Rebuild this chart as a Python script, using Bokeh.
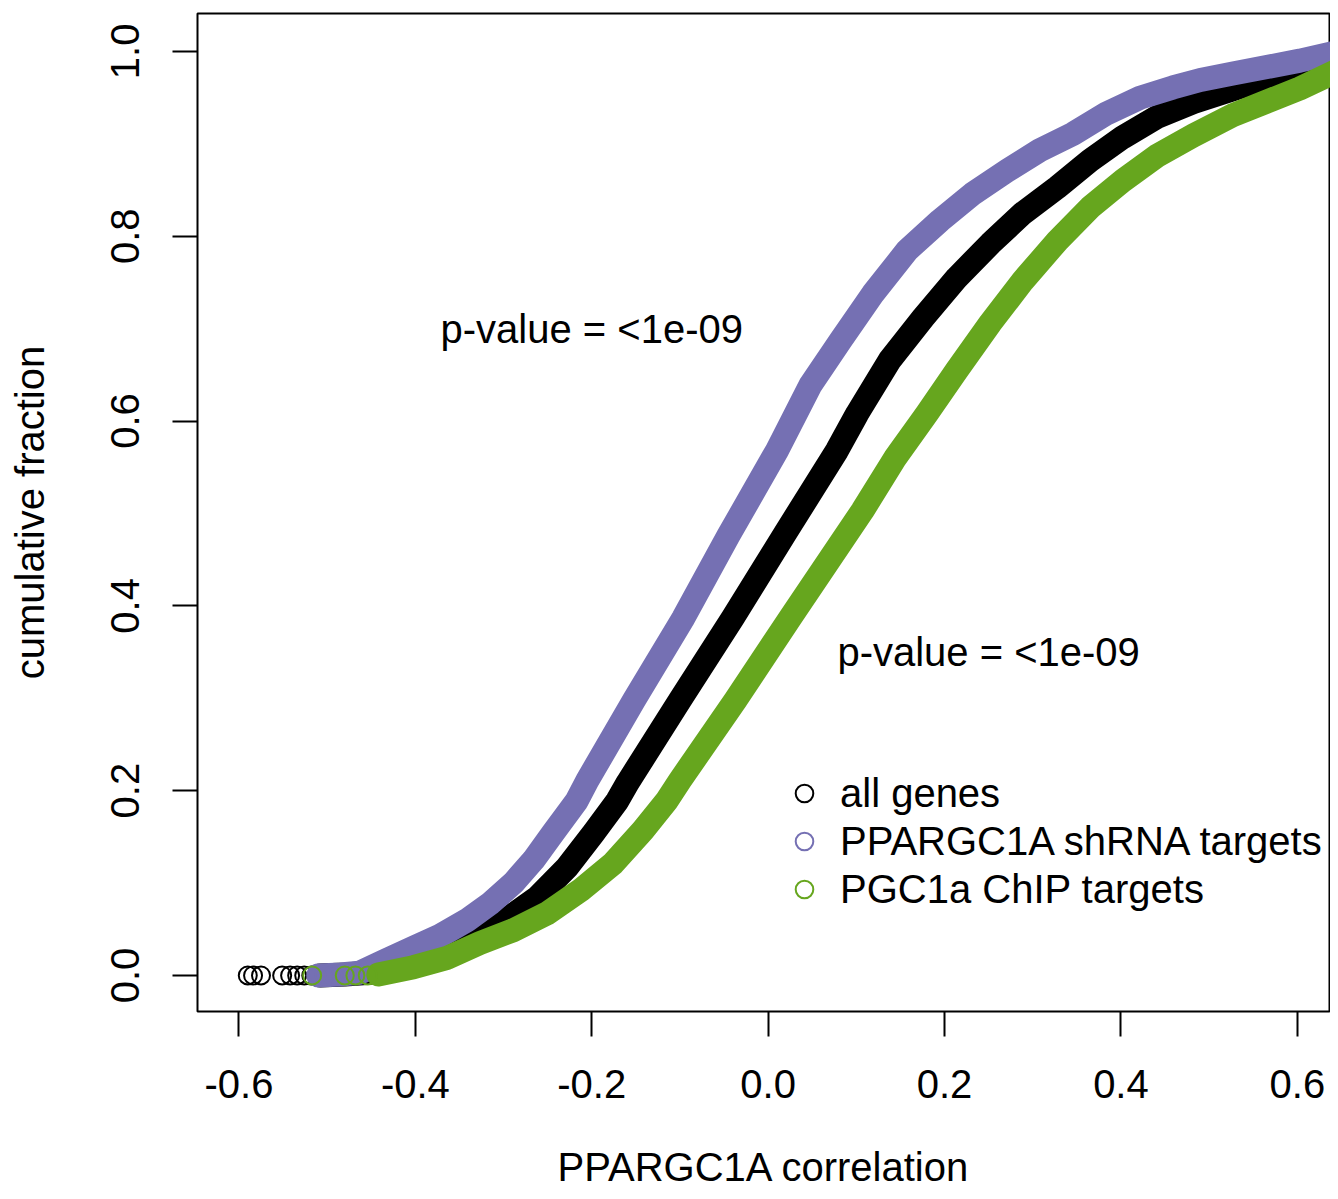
from bokeh.plotting import figure
from bokeh.models import Range1d, FixedTicker, Legend, LegendItem
from bokeh.core.properties import value
from bokeh.embed import file_html
from bokeh.resources import INLINE

FONT = "Liberation Sans"

# ---- data (ECDF of correlation values) ----
all_tail_x = [-0.590, -0.584, -0.575, -0.551, -0.542, -0.534, -0.526, -0.518]
all_tail_y = [0.0, 0.0, 0.0, 0.0, 0.0, 0.0, 0.0, 0.0]
all_x = [-0.508, -0.480, -0.451, -0.417, -0.389, -0.372, -0.357, -0.330, -0.296,
         -0.262, -0.228, -0.198, -0.171, -0.159, -0.100, -0.040, 0.019, 0.078,
         0.101, 0.138, 0.176, 0.214, 0.252, 0.289, 0.328, 0.365, 0.402, 0.441,
         0.482, 0.546, 0.603, 0.641]
all_y = [0.000, 0.001, 0.003, 0.009, 0.017, 0.024, 0.030, 0.043, 0.061,
         0.084, 0.117, 0.154, 0.189, 0.209, 0.298, 0.387, 0.478, 0.568,
         0.608, 0.666, 0.712, 0.755, 0.792, 0.825, 0.853, 0.882, 0.907, 0.929,
         0.945, 0.965, 0.983, 0.996]

sh_tail_x = [-0.512, -0.503, -0.494]
sh_tail_y = [0.0, 0.0, 0.0]
sh_x = [-0.510, -0.485, -0.463, -0.434, -0.402, -0.372, -0.341, -0.315, -0.289,
        -0.266, -0.244, -0.217, -0.205, -0.152, -0.096, -0.045, 0.010, 0.048,
        0.082, 0.119, 0.158, 0.195, 0.232, 0.271, 0.308, 0.346, 0.384, 0.422,
        0.459, 0.490, 0.527, 0.603, 0.645]
sh_y = [0.000, 0.001, 0.003, 0.016, 0.030, 0.043, 0.060, 0.078, 0.100,
        0.125, 0.154, 0.189, 0.211, 0.298, 0.387, 0.476, 0.568, 0.639,
        0.687, 0.738, 0.785, 0.817, 0.846, 0.871, 0.893, 0.911, 0.933, 0.950,
        0.961, 0.969, 0.976, 0.990, 0.999]

chip_tail_x = [-0.517, -0.480, -0.468, -0.454]
chip_tail_y = [0.0, 0.0, 0.0, 0.0]
chip_x = [-0.442, -0.402, -0.364, -0.327, -0.289, -0.251, -0.213, -0.176, -0.142,
          -0.115, -0.100, -0.037, 0.025, 0.107, 0.144, 0.180, 0.214, 0.252,
          0.289, 0.328, 0.365, 0.402, 0.441, 0.482, 0.527, 0.603, 0.645]
chip_y = [0.001, 0.009, 0.019, 0.035, 0.049, 0.067, 0.092, 0.121, 0.157,
          0.189, 0.211, 0.298, 0.387, 0.503, 0.560, 0.608, 0.655, 0.706,
          0.752, 0.795, 0.831, 0.860, 0.887, 0.909, 0.931, 0.960, 0.979]

series_names = ["all genes", "PPARGC1A shRNA targets", "PGC1a ChIP targets"]
series_colors = ["#000000", "#7570B3", "#66A61E"]

annot_x = [-0.2, 0.25]
annot_y = [0.7, 0.35]
annot_text = ["p-value = <1e-09", "p-value = <1e-09"]

x_ticks = [-0.6, -0.4, -0.2, 0.0, 0.2, 0.4, 0.6]
x_tick_labels = ["-0.6", "-0.4", "-0.2", "0.0", "0.2", "0.4", "0.6"]
y_ticks = [0.0, 0.2, 0.4, 0.6, 0.8, 1.0]
y_tick_labels = ["0.0", "0.2", "0.4", "0.6", "0.8", "1.0"]

# ---- figure ----
p = figure(width=1330, height=1191, output_backend="svg", toolbar_location=None,
           x_range=Range1d(-0.647, 0.6376), y_range=Range1d(-0.039, 1.041),
           min_border_left=197, min_border_top=13, min_border_bottom=180,
           min_border_right=0)
p.background_fill_color = "white"
p.border_fill_color = "white"
p.outline_line_color = "black"
p.outline_line_width = 2
p.grid.visible = False

for ax in (p.xaxis[0], p.yaxis[0]):
    ax.axis_line_color = None
    ax.major_tick_line_color = "black"
    ax.major_tick_line_width = 2
    ax.major_tick_out = 25
    ax.major_tick_in = 0
    ax.minor_tick_line_color = None
    ax.major_label_text_font = FONT
    ax.major_label_text_font_size = "40px"
    ax.major_label_text_color = "black"
    ax.axis_label_text_font = FONT
    ax.axis_label_text_font_size = "40px"
    ax.axis_label_text_font_style = "normal"
    ax.axis_label_text_color = "black"

p.xaxis.ticker = FixedTicker(ticks=x_ticks)
p.xaxis.major_label_overrides = dict(zip(x_ticks, x_tick_labels))
p.yaxis.ticker = FixedTicker(ticks=y_ticks)
p.yaxis.major_label_overrides = dict(zip(y_ticks, y_tick_labels))
p.yaxis.major_label_orientation = "vertical"
p.xaxis.axis_label = "PPARGC1A correlation"
p.yaxis.axis_label = "cumulative fraction"
p.xaxis.major_label_standoff = 33
p.xaxis.axis_label_standoff = 44
p.yaxis.major_label_standoff = 33
p.yaxis.axis_label_standoff = 57

legend_items = []
groups = [
    (all_tail_x, all_tail_y, all_x, all_y),
    (sh_tail_x, sh_tail_y, sh_x, sh_y),
    (chip_tail_x, chip_tail_y, chip_x, chip_y),
]
for (tx, ty, bx, by), name, col in zip(groups, series_names, series_colors):
    p.line(bx, by, line_color=col, line_width=24, line_cap="round", line_join="round")
    r = p.scatter(tx, ty, marker="circle", size=18, fill_color=None,
                  line_color=col, line_width=2)
    legend_items.append(LegendItem(label=name, renderers=[r]))

p.text(x=annot_x, y=annot_y, text=annot_text, text_font=value(FONT),
       text_font_size="40px", text_align="center", text_baseline="middle",
       text_color="black")

legend = Legend(items=legend_items, location=(585, 98))
legend.border_line_color = None
legend.background_fill_alpha = 0
legend.padding = 0
legend.margin = 0
legend.spacing = 0
legend.glyph_width = 44
legend.glyph_height = 48
legend.label_height = 48
legend.label_standoff = 14
legend.label_text_font = FONT
legend.label_text_font_size = "40px"
legend.label_text_color = "black"
legend.label_text_baseline = "middle"
p.add_layout(legend)

open("out.html", "w").write(file_html(p, INLINE))
